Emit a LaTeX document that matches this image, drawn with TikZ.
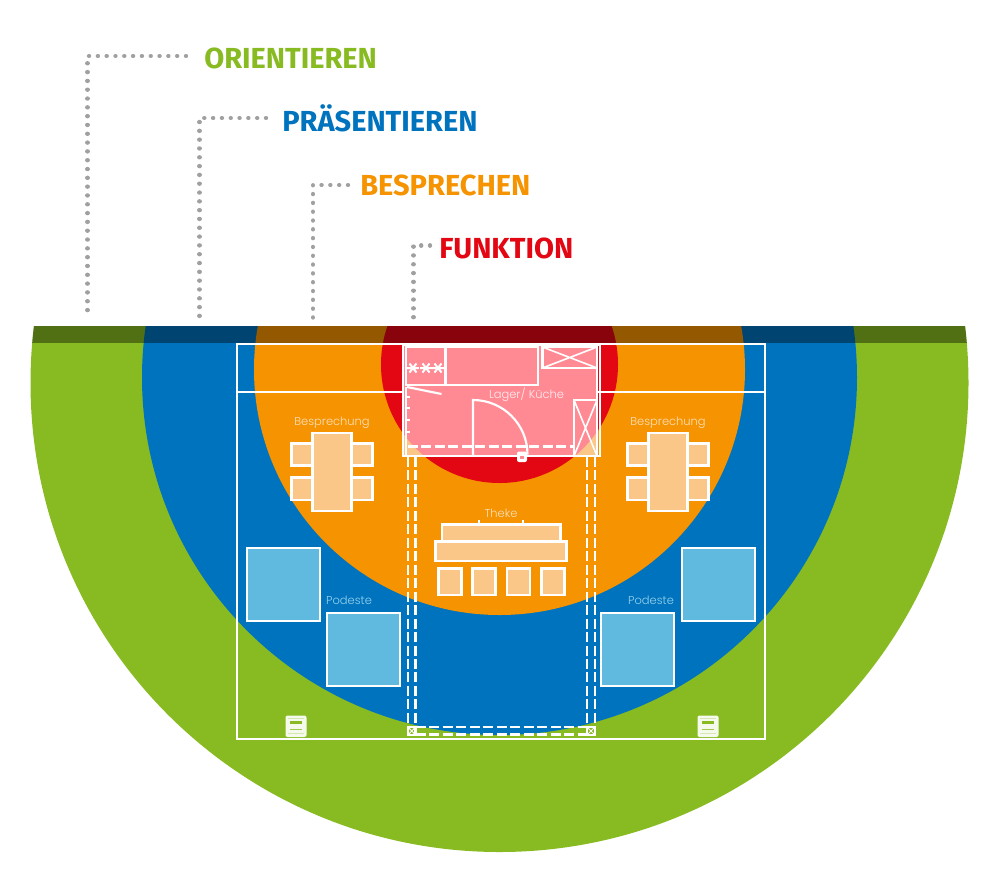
\documentclass[tikz,border=0pt]{standalone}
\usepackage{fontspec}
\setmainfont{Poppins Light}
\newfontfamily\headfont{Fira Sans}
\definecolor{cgreen}{RGB}{136,187,34}
\definecolor{cblue}{RGB}{0,115,190}
\definecolor{corange}{RGB}{245,147,0}
\definecolor{cred}{RGB}{227,6,19}
\definecolor{cpink}{RGB}{255,138,148}
\definecolor{cpeach}{RGB}{251,199,136}
\definecolor{clight}{RGB}{96,186,224}
\definecolor{cdots}{RGB}{160,160,160}
\tikzset{
  x=0.75pt,y=-0.75pt,
  wl/.style={draw=white,line width=1.9pt},
  thinw/.style={draw=white,line width=1.6pt},
  dashw/.style={draw=white,line width=1.8pt,dash pattern=on 7.5pt off 2.6pt},
  furn/.style={draw=white,line width=2pt,fill=cpeach},
  pod/.style={draw=white,line width=1.3pt,fill=clight},
  leader/.style={draw=cdots,line width=3.3pt,line cap=round,dash pattern=on 0.01pt off 6.6pt},
  head/.style={font=\headfont\bfseries\fontsize{21.75}{22}\selectfont,anchor=base west,inner sep=0pt},
  small/.style={font=\fontsize{8.6}{9}\selectfont,inner sep=0pt},
}
\begin{document}
\begin{tikzpicture}
\useasboundingbox (0,0) rectangle (1000,872);
\fill[white] (0,0) rectangle (1000,872);
\begin{scope}
  \clip (0,326) rectangle (1000,872);
  \fill[cgreen] (499.5,383) circle[radius=469*0.75pt];
  \fill[cblue] (499.5,377.5) circle[radius=357.5*0.75pt];
  \fill[corange] (499.5,369.5) circle[radius=245.5*0.75pt];
  \fill[cred] (499.5,364.5) circle[radius=118.5*0.75pt];
  \begin{scope}
    \clip (499.5,383) circle[radius=469*0.75pt];
    \fill[black,opacity=.4] (0,326) rectangle (1000,343);
  \end{scope}
\end{scope}
% room
\fill[cpeach] (404,345) rectangle (598,457);
\begin{scope}
  \clip (499.5,364.5) circle[radius=118.5*0.75pt];
  \fill[cpink] (404,345) rectangle (598,457);
\end{scope}
\draw[wl] (237,344) rectangle (765,739);
\draw[wl] (237,392) -- (404,392) (598,392) -- (765,392);
\draw[wl,line width=2.2pt] (403,345) rectangle (600,456);
\draw[thinw] (406,347) rectangle (445.5,385) (445.5,347) rectangle (538,385) (542.5,347) rectangle (597,368);
\draw[thinw,line width=1.2pt] (542.5,347) -- (597,368) (542.5,368) -- (597,347);
\draw[thinw] (597,347) -- (597,456);
\draw[thinw] (574,400) rectangle (597,456);
\draw[thinw,line width=1.2pt] (574,400) -- (597,456) (597,400) -- (574,456);
\draw[thinw] (407,387) -- (441.5,394);
\draw[thinw] (473,456) -- (473,400) arc[start angle=90,end angle=0,radius=54.5*0.75pt];
\foreach \i in {413,426,438}{
  \draw[thinw,line width=1.5pt] (\i-6,368) -- (\i+6,368) (\i-3.5,363.5) -- (\i+3.5,372.5) (\i+3.5,363.5) -- (\i-3.5,372.5);
}
\draw[thinw] (406,387) -- (406,456);
\foreach \j in {397,408,420,432}{ \draw[thinw] (406,\j) -- (410,\j); }
\draw[dashw] (408,446.5) -- (574,446.5);
\fill[white,rounded corners=1.5pt] (517,451.5) rectangle (527,462);
\fill[cpink] (520,455.5) rectangle (524,458.5);
\node[small,text=white!85!cpink] (lager) at (526.5,395) {Lager/ Küche};
% columns & dashed
\draw[dashw] (408,457) -- (408,727);
\draw[dashw] (415.5,457) -- (415.5,727);
\draw[dashw] (587,457) -- (587,727);
\draw[dashw] (595,457) -- (595,727);
\draw[dashw] (416,727) -- (587,727);
\draw[dashw] (416,734.5) -- (587,734.5);
\draw[thinw] (408,727) rectangle (415.5,735) (587,727) rectangle (595,735);
\draw[thinw,line width=.7pt] (408,727) -- (415.5,735) (415.5,727) -- (408,735) (587,727) -- (595,735) (595,727) -- (587,735);
% tables
\foreach \ox in {0,336}{
  \draw[furn] (291.5+\ox,443.5) rectangle (372.5+\ox,465.5);
  \draw[furn] (291.5+\ox,477.5) rectangle (372.5+\ox,500);
  \draw[furn] (312.5+\ox,433) rectangle (351.5+\ox,511);
}
\node[small,text=white!45!cpeach] (b1) at (332,423) {Besprechung};
\node[small,text=white!45!cpeach] (b2) at (668,423) {Besprechung};
% theke
\draw[furn] (442,524.5) rectangle (560.5,541.5);
\draw[furn] (435.5,541.5) rectangle (566.5,561);
\draw[wl,line width=1pt] (479,524) -- (479,520) (523,524) -- (523,520);
\foreach \x in {438.5,472.5,507,541.5}{
  \draw[furn,line width=2.2pt] (\x,568.5) rectangle (\x+23,595);
}
\node[small,text=white!45!cpeach] (th) at (501,513) {Theke};
% podeste
\draw[pod] (247,548) rectangle (320,621);
\draw[pod] (327,613) rectangle (400,686);
\draw[pod] (682,548) rectangle (755,621);
\draw[pod] (601,613) rectangle (674,686);
\node[small,text=clight!65!white] (p1) at (349,600) {Podeste};
\node[small,text=clight!65!white] (p2) at (651,600) {Podeste};
% small devices
\foreach \x in {296,708}{
  \fill[white!92!cgreen,rounded corners=1.5pt] (\x-10.5,715.5) rectangle (\x+10.5,737);
  \fill[cgreen] (\x-6,720.5) rectangle (\x+6,723.5);
  \draw[cgreen!80!white,line width=.8pt] (\x-6,729.5) -- (\x+6,729.5);
  \draw[cgreen!35!white,line width=.5pt] (\x-8,718) -- (\x+8,718) (\x-8,733.5) -- (\x+8,733.5);
}
% labels and leaders
\node[head,text=cgreen] (o) at (204,68) {ORIENTIEREN};
\node[head,text=cblue] (pr) at (282,131.5) {PRÄSENTIEREN};
\node[head,text=corange] (be) at (360,195) {BESPRECHEN};
\node[head,text=cred] (fu) at (439,258.5) {FUNKTION};
\coordinate (oa) at (87.5,318); \coordinate (ob) at (87.5,56); \coordinate (oc) at (186,56);
\coordinate (pa) at (199.5,318); \coordinate (pb) at (199.5,118); \coordinate (pc) at (266,118);
\coordinate (ba) at (313,318); \coordinate (bb) at (313,185); \coordinate (bc) at (348,185);
\coordinate (fa) at (413.5,318); \coordinate (fb) at (413.5,245.5); \coordinate (fc) at (430,245.5);
\draw[leader] (oc) -- (ob) -- (oa);
\draw[leader] (pc) -- (pb) -- (pa);
\draw[leader] (bc) -- (bb) -- (ba);
\draw[leader] (fc) -- (fb) -- (fa);
\end{tikzpicture}
\end{document}
